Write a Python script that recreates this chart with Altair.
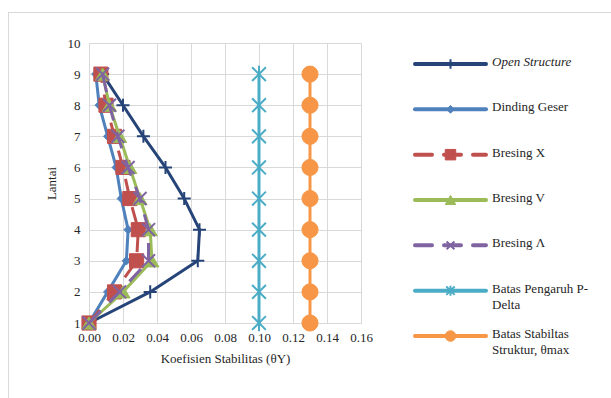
import altair as alt
import pandas as pd

# ---------------- data ----------------
lantai = [1, 2, 3, 4, 5, 6, 7, 8, 9]
open_structure = [0.000, 0.036, 0.064, 0.065, 0.056, 0.045, 0.032, 0.020, 0.008]
dinding_geser = [0.000, 0.011, 0.022, 0.023, 0.019, 0.016, 0.011, 0.006, 0.004]
bresing_x = [0.000, 0.015, 0.028, 0.029, 0.024, 0.020, 0.015, 0.010, 0.007]
bresing_v = [0.000, 0.020, 0.037, 0.036, 0.030, 0.024, 0.018, 0.012, 0.008]
bresing_lambda = [0.000, 0.018, 0.035, 0.035, 0.030, 0.023, 0.017, 0.012, 0.008]
batas_pdelta = [0.10, 0.10, 0.10, 0.10, 0.10, 0.10, 0.10, 0.10, 0.10]
batas_stabilitas = [0.13, 0.13, 0.13, 0.13, 0.13, 0.13, 0.13, 0.13, 0.13]

series_names = ["Open Structure", "Dinding Geser", "Bresing X", "Bresing V",
                "Bresing Λ", "Batas Pengaruh P-Delta", "Batas Stabiltas Struktur, θmax"]
legend_labels = ["Open Structure", "Dinding Geser", "Bresing X", "Bresing V",
                 "Bresing Λ", "Batas Pengaruh P-\nDelta", "Batas Stabiltas\nStruktur, θmax"]
series_values = [open_structure, dinding_geser, bresing_x, bresing_v,
                 bresing_lambda, batas_pdelta, batas_stabilitas]

x_ticks = [0.00, 0.02, 0.04, 0.06, 0.08, 0.10, 0.12, 0.14, 0.16]
y_ticks = [1, 2, 3, 4, 5, 6, 7, 8, 9, 10]

# ---------------- styles ----------------
PLUS = "M-1,0H1M0,-1V1"
XSHAPE = "M-1,-1L1,1M-1,1L1,-1"
STAR = "M-1,-1L1,1M-1,1L1,-1M0,-1.2V1.2"
styles = {
    "Open Structure": dict(color="#264478", dash=None, shape=PLUS, size=170, filled=False, sw=2, lsize=90),
    "Dinding Geser": dict(color="#4F81BD", dash=None, shape="diamond", size=70, filled=True, sw=1, lsize=60),
    "Bresing X": dict(color="#C0504D", dash=[17, 12], shape="square", size=200, filled=True, sw=1, lsize=110),
    "Bresing V": dict(color="#9BBB59", dash=None, shape="triangle-up", size=200, filled=True, sw=1, lsize=110),
    "Bresing Λ": dict(color="#8064A2", dash=[17, 12], shape=XSHAPE, size=170, filled=False, sw=2, lsize=60),
    "Batas Pengaruh P-Delta": dict(color="#4BACC6", dash=None, shape=STAR, size=190, filled=False, sw=2, lsize=70),
    "Batas Stabiltas Struktur, θmax": dict(color="#F79646", dash=None, shape="circle", size=260, filled=True, sw=1, lsize=110),
}

FONT = "'Liberation Serif', 'Times New Roman', serif"
TXT = "#262626"

rows = []
for name, vals in zip(series_names, series_values):
    for lt, v in zip(lantai, vals):
        rows.append({"series": name, "lantai": lt, "theta": v})
df = pd.DataFrame(rows)

x_enc = alt.X("theta:Q",
              scale=alt.Scale(domain=[0, 0.16], nice=False, zero=False),
              axis=alt.Axis(values=x_ticks, format=".2f", title="Koefisien Stabilitas (θY)",
                            labelPadding=8, titlePadding=8))
y_enc = alt.Y("lantai:Q",
              scale=alt.Scale(domain=[1, 10], nice=False, zero=False),
              axis=alt.Axis(values=y_ticks, format="d", title="Lantai",
                            labelPadding=9, titlePadding=9))

plot_layers = []
for name in series_names:
    st = styles[name]
    base = alt.Chart(df).transform_filter(alt.datum.series == name)
    line_kw = dict(color=st["color"], strokeWidth=3, strokeJoin="round")
    if st["dash"]:
        line_kw["strokeDash"] = st["dash"]
    plot_layers.append(base.mark_line(**line_kw).encode(x=x_enc, y=y_enc, order="lantai:Q"))
    if st["filled"]:
        pt = base.mark_point(shape=st["shape"], size=st["size"], filled=True, fill=st["color"],
                             stroke=st["color"], strokeWidth=st["sw"], opacity=1)
    else:
        pt = base.mark_point(shape=st["shape"], size=st["size"], filled=False, stroke=st["color"],
                             strokeWidth=st["sw"], opacity=1)
    plot_layers.append(pt.encode(x=x_enc, y=y_enc))

plot = alt.layer(*plot_layers)

# ---------------- legend (drawn as marks) ----------------
leg_rows = []
for i, (name, lab) in enumerate(zip(series_names, legend_labels)):
    for lx in [0.0, 1.0]:
        leg_rows.append({"series": name, "label": lab, "row": i, "lx": lx, "kind": "line"})
    leg_rows.append({"series": name, "label": lab, "row": i, "lx": 0.5, "kind": "marker"})
    leg_rows.append({"series": name, "label": lab, "row": i, "lx": 1.0, "kind": "text"})
dleg = pd.DataFrame(leg_rows)

lx_enc = alt.X("lx:Q", scale=alt.Scale(domain=[0, 1], range=[326, 397], nice=False, zero=False), axis=None)
ly_enc = alt.Y("row:Q", scale=alt.Scale(domain=[0, 6], range=[21, 293], nice=False, zero=False), axis=None)

leg_layers = []
for name in series_names:
    st = styles[name]
    b = alt.Chart(dleg).transform_filter(alt.datum.series == name)
    kw = dict(color=st["color"], strokeWidth=4, strokeCap="round")
    if st["dash"]:
        kw["strokeDash"] = st["dash"]
    leg_layers.append(b.transform_filter(alt.datum.kind == "line").mark_line(**kw)
                      .encode(x=lx_enc, y=ly_enc, order="lx:Q"))
    if st["filled"]:
        pt = b.mark_point(shape=st["shape"], size=st["lsize"], filled=True, fill=st["color"],
                          stroke=st["color"], strokeWidth=1, opacity=1)
    else:
        pt = b.mark_point(shape=st["shape"], size=st["lsize"], filled=False, stroke=st["color"],
                          strokeWidth=2, opacity=1)
    leg_layers.append(pt.transform_filter(alt.datum.kind == "marker").encode(x=lx_enc, y=ly_enc))

txt_base = alt.Chart(dleg).transform_filter(alt.datum.kind == "text")
leg_layers.append(
    txt_base.transform_filter(alt.datum.series != "Open Structure")
    .mark_text(align="left", baseline="top", dx=6, dy=-8, lineBreak="\n", font=FONT,
               fontSize=13, color=TXT, lineHeight=16)
    .encode(x=lx_enc, y=ly_enc, text="label:N")
)
leg_layers.append(
    txt_base.transform_filter(alt.datum.series == "Open Structure")
    .mark_text(align="left", baseline="top", dx=6, dy=-8, font=FONT, fontStyle="italic",
               fontSize=13, color=TXT, lineHeight=16)
    .encode(x=lx_enc, y=ly_enc, text="label:N")
)
# chart-area frame
leg_layers.append(
    alt.Chart(dleg).mark_rule(color="#D9D9D9", strokeWidth=1)
    .encode(x=alt.value(-80.5), y=alt.value(-30.5), y2=alt.value(400))
)
leg_layers.append(
    alt.Chart(dleg).mark_rule(color="#D9D9D9", strokeWidth=1)
    .encode(x=alt.value(-80.5), x2=alt.value(540), y=alt.value(-30.5))
)

legend = alt.layer(*leg_layers)

chart = (
    alt.layer(plot, legend)
    .resolve_scale(x="independent", y="independent")
    .properties(width=272, height=280,
                autosize=alt.AutoSizeParams(type="none"),
                padding={"left": 89, "top": 43, "right": 250, "bottom": 75})
    .configure(background="white", font=FONT)
    .configure_view(stroke=None)
    .configure_axis(labelFont=FONT, titleFont=FONT, labelFontSize=13, titleFontSize=13,
                    titleFontWeight="normal", labelColor=TXT, titleColor=TXT,
                    gridColor="#D9D9D9", gridWidth=1, domainColor="#D9D9D9", ticks=False,
                    labelFlush=False, labelOverlap=False)
)

chart.save("out.html", embed_options={"renderer": "svg", "actions": False})
